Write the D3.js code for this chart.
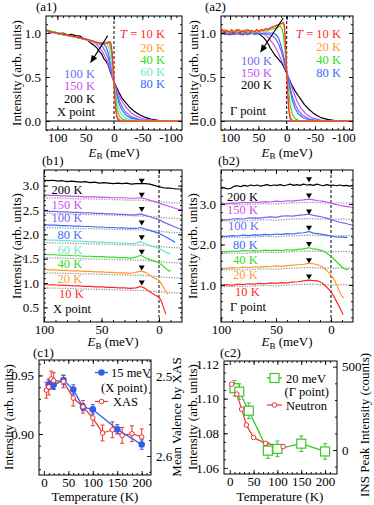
<!DOCTYPE html>
<meta charset="utf-8">
<script src="https://d3js.org/d3.v7.min.js"></script>
<body style="margin:0;background:#fff">
<svg id="fig" width="374" height="505"></svg>
</body>
<script>
    // colours per temperature
    const tColour = {10: "#ff2a2a", 20: "#ff9a2e", 40: "#33dd22", 60: "#6fe6cf",
        80: "#3a6bff", 100: "#6b6bf5", 150: "#cf4ff0", 200: "#000000"};

    // ---- (a1) X point, [E_B (meV), intensity]
    const a1_10 = [[120,1.03],[110,1.01],[100,1.0],[90,0.985],[80,0.97],[70,0.96],[60,0.945],[50,0.93],[40,0.915],[30,0.895],[20,0.88],[14,0.88],[10,0.89],[7,0.90],[5,0.87],[3,0.76],[1,0.56],[0,0.44],[-1,0.31],[-3,0.12],[-5,0.04],[-8,0.01],[-12,0],[-120,0]];
    const a1_20 = [[120,1.02],[110,1.01],[100,1.0],[90,0.98],[80,0.97],[70,0.955],[60,0.945],[50,0.93],[40,0.91],[30,0.895],[20,0.88],[12,0.89],[8,0.90],[5,0.85],[3,0.73],[0,0.44],[-3,0.17],[-6,0.05],[-10,0.015],[-15,0.004],[-22,0],[-120,0]];
    const a1_40 = [[120,1.04],[110,1.02],[100,1.005],[90,0.99],[80,0.975],[70,0.96],[60,0.945],[50,0.93],[40,0.915],[30,0.895],[20,0.885],[14,0.895],[11,0.90],[8,0.88],[5,0.80],[2,0.61],[0,0.44],[-3,0.25],[-6,0.12],[-10,0.05],[-15,0.02],[-25,0.005],[-40,0],[-120,0]];
    const a1_60 = [[120,1.03],[110,1.015],[100,1.0],[90,0.985],[80,0.97],[70,0.955],[60,0.945],[50,0.93],[40,0.91],[30,0.895],[22,0.885],[16,0.89],[12,0.88],[8,0.81],[4,0.63],[0,0.44],[-4,0.27],[-8,0.15],[-12,0.085],[-20,0.035],[-30,0.012],[-50,0],[-120,0]];
    const a1_80 = [[120,1.02],[110,1.01],[100,0.995],[90,0.98],[80,0.97],[70,0.955],[60,0.94],[50,0.93],[40,0.91],[30,0.895],[24,0.885],[19,0.88],[14,0.845],[10,0.77],[5,0.61],[0,0.44],[-5,0.29],[-10,0.18],[-15,0.115],[-20,0.075],[-30,0.032],[-45,0.01],[-60,0],[-120,0]];
    const a1_100 = [[120,1.025],[110,1.01],[100,1.0],[90,0.985],[80,0.97],[70,0.955],[60,0.94],[50,0.925],[40,0.91],[30,0.89],[22,0.86],[16,0.80],[10,0.71],[5,0.58],[0,0.44],[-5,0.32],[-10,0.22],[-15,0.155],[-20,0.105],[-30,0.05],[-45,0.016],[-70,0],[-120,0]];
    const a1_150 = [[120,1.02],[110,1.01],[100,0.995],[90,0.98],[80,0.97],[70,0.955],[60,0.94],[50,0.925],[40,0.905],[34,0.89],[28,0.855],[20,0.785],[12,0.685],[6,0.57],[0,0.44],[-6,0.335],[-12,0.245],[-20,0.165],[-30,0.095],[-40,0.052],[-55,0.02],[-80,0.002],[-120,0]];
    const a1_200 = [[120,1.03],[112,1.0],[105,1.01],[98,0.99],[90,1.0],[82,0.98],[75,0.985],[68,0.97],[60,0.965],[54,0.94],[48,0.925],[42,0.89],[36,0.865],[30,0.83],[26,0.79],[22,0.765],[18,0.71],[14,0.68],[10,0.63],[6,0.55],[2,0.48],[0,0.445],[-4,0.39],[-8,0.335],[-14,0.26],[-20,0.215],[-27,0.16],[-35,0.115],[-45,0.072],[-55,0.042],[-65,0.022],[-78,0.008],[-95,0.002],[-120,0]];

    // ---- (a2) Gamma point
    const a2_10 = [[117,1.02],[113,1.04],[109,1.0],[105,1.03],[101,1.01],[97,1.04],[93,1.0],[89,1.02],[85,1.04],[81,1.01],[77,1.03],[73,1.0],[69,1.04],[65,1.02],[61,1.03],[57,1.01],[53,1.04],[49,1.02],[45,1.04],[41,1.03],[37,1.05],[33,1.04],[29,1.06],[25,1.07],[21,1.08],[17,1.09],[13,1.1],[9,1.11],[6,1.12],[4,1.09],[2,0.87],[0,0.56],[-2,0.28],[-4,0.1],[-6,0.03],[-9,0],[-117,0]];
    const a2_20 = [[117,1.0],[113,1.02],[109,1.03],[105,1.0],[101,1.02],[97,1.01],[93,1.03],[89,1.0],[85,1.02],[81,1.03],[77,1.0],[73,1.02],[69,1.01],[65,1.03],[61,1.0],[57,1.02],[53,1.03],[49,1.01],[45,1.03],[41,1.02],[35,1.04],[29,1.05],[23,1.07],[17,1.08],[12,1.1],[8,1.11],[5,1.09],[3,0.95],[1,0.7],[0,0.56],[-2,0.33],[-4,0.15],[-7,0.04],[-11,0.005],[-15,0],[-117,0]];
    const a2_40 = [[117,1.03],[113,1.01],[109,1.04],[105,1.02],[101,1.0],[97,1.03],[93,1.02],[89,1.04],[85,1.01],[81,1.03],[77,1.02],[73,1.04],[69,1.0],[65,1.03],[61,1.02],[57,1.0],[53,1.03],[49,1.01],[45,1.02],[41,1.03],[35,1.02],[29,1.04],[23,1.05],[17,1.06],[12,1.08],[9,1.06],[6,0.98],[3,0.8],[0,0.56],[-3,0.36],[-6,0.19],[-10,0.075],[-15,0.025],[-22,0.005],[-30,0],[-117,0]];
    const a2_80 = [[117,0.99],[113,1.0],[109,0.98],[105,1.01],[101,0.99],[97,0.98],[93,1.0],[89,0.99],[85,1.01],[81,0.98],[77,1.0],[73,0.99],[69,0.98],[65,1.0],[61,0.99],[57,1.01],[53,0.99],[49,1.0],[45,0.99],[41,1.0],[35,1.0],[29,1.0],[24,1.0],[19,0.98],[15,0.95],[11,0.88],[7,0.78],[3,0.66],[0,0.56],[-5,0.38],[-10,0.23],[-15,0.14],[-20,0.085],[-28,0.04],[-40,0.012],[-55,0],[-117,0]];
    const a2_100 = [[117,0.98],[113,1.0],[109,0.99],[105,0.98],[101,1.0],[97,0.99],[93,0.98],[89,1.0],[85,0.99],[81,0.98],[77,0.99],[73,1.0],[69,0.98],[65,0.99],[61,1.0],[57,0.98],[53,0.99],[49,1.0],[45,0.99],[41,0.99],[35,0.99],[29,0.98],[24,0.96],[19,0.93],[14,0.87],[9,0.78],[5,0.68],[0,0.56],[-5,0.41],[-10,0.28],[-15,0.19],[-20,0.125],[-28,0.065],[-40,0.022],[-60,0],[-117,0]];
    const a2_150 = [[117,0.99],[109,1.0],[101,0.99],[93,1.0],[85,0.99],[77,1.0],[69,0.99],[61,1.0],[53,0.99],[45,1.0],[40,0.99],[34,0.96],[28,0.91],[22,0.86],[16,0.79],[10,0.7],[5,0.63],[0,0.56],[-6,0.44],[-12,0.33],[-18,0.23],[-25,0.145],[-35,0.075],[-45,0.035],[-60,0.01],[-80,0],[-117,0]];
    const a2_200 = [[117,1.01],[113,0.99],[109,1.02],[105,1.0],[101,0.98],[97,1.01],[93,1.0],[89,0.99],[85,1.01],[81,1.0],[77,0.98],[73,1.01],[69,0.99],[65,1.0],[61,1.01],[57,0.99],[53,1.0],[49,0.99],[45,0.97],[41,0.95],[37,0.92],[33,0.88],[29,0.83],[25,0.79],[21,0.75],[17,0.72],[13,0.69],[9,0.66],[5,0.61],[2,0.57],[0,0.54],[-4,0.48],[-9,0.41],[-15,0.34],[-20,0.29],[-25,0.245],[-31,0.19],[-38,0.14],[-46,0.095],[-54,0.06],[-62,0.035],[-72,0.018],[-85,0.006],[-100,0],[-117,0]];

    // ---- (b1) X point, offset spectra
    const b1_200 = [[100,3.11],[96,3.10],[92,3.11],[88,3.09],[84,3.10],[80,3.08],[76,3.09],[72,3.08],[68,3.07],[64,3.08],[60,3.06],[56,3.07],[52,3.05],[48,3.06],[44,3.05],[40,3.04],[36,3.05],[32,3.04],[28,3.05],[24,3.03],[20,3.04],[16,3.04],[12,3.04],[8,3.03],[5,3.01],[2,2.99],[0,2.98],[-3,2.96],[-6,2.95],[-9,2.95],[-12,2.94],[-15,2.93],[-18,2.93],[-20,2.92]];
    const b1_150 = [[100,2.81],[95,2.80],[90,2.80],[85,2.79],[80,2.79],[75,2.78],[70,2.78],[65,2.77],[60,2.77],[55,2.77],[50,2.76],[45,2.76],[40,2.75],[35,2.75],[30,2.75],[25,2.74],[20,2.74],[16,2.75],[12,2.73],[8,2.70],[4,2.67],[0,2.64],[-4,2.61],[-8,2.58],[-12,2.55],[-16,2.52],[-20,2.50]];
    const b1_100 = [[100,2.48],[95,2.47],[90,2.47],[85,2.46],[80,2.46],[75,2.45],[70,2.45],[65,2.44],[60,2.44],[55,2.43],[50,2.43],[45,2.42],[40,2.42],[35,2.41],[30,2.41],[25,2.40],[20,2.40],[16,2.42],[12,2.39],[8,2.36],[4,2.33],[0,2.30],[-4,2.25],[-8,2.21],[-12,2.17],[-16,2.13],[-20,2.10]];
    const b1_80 = [[100,2.20],[95,2.19],[90,2.19],[85,2.18],[80,2.18],[75,2.17],[70,2.17],[65,2.16],[60,2.16],[55,2.15],[50,2.15],[45,2.14],[40,2.14],[35,2.13],[30,2.13],[25,2.12],[20,2.12],[16,2.14],[12,2.11],[8,2.08],[4,2.05],[0,2.02],[-4,1.97],[-8,1.92],[-11,1.88],[-14,1.84]];
    const b1_60 = [[100,1.89],[95,1.88],[90,1.88],[85,1.87],[80,1.87],[75,1.86],[70,1.86],[65,1.85],[60,1.85],[55,1.84],[50,1.84],[45,1.83],[40,1.83],[35,1.82],[30,1.82],[25,1.81],[20,1.82],[16,1.85],[12,1.81],[8,1.77],[4,1.74],[0,1.71],[-3,1.67],[-6,1.63],[-8,1.61],[-10,1.61]];
    const b1_40 = [[100,1.59],[95,1.58],[90,1.58],[85,1.57],[80,1.57],[75,1.56],[70,1.56],[65,1.55],[60,1.55],[55,1.54],[50,1.54],[45,1.53],[40,1.53],[35,1.52],[30,1.52],[25,1.51],[20,1.53],[16,1.57],[12,1.52],[8,1.48],[4,1.45],[0,1.41],[-3,1.36],[-6,1.30],[-8,1.26],[-10,1.24]];
    const b1_20 = [[100,1.28],[95,1.27],[90,1.27],[85,1.26],[80,1.26],[75,1.25],[70,1.25],[65,1.24],[60,1.24],[55,1.23],[50,1.23],[45,1.22],[40,1.22],[35,1.21],[30,1.21],[25,1.20],[20,1.22],[16,1.25],[12,1.22],[8,1.16],[4,1.10],[0,1.05],[-3,0.95],[-5,0.86],[-7,0.79],[-8,0.77]];
    const b1_10 = [[100,0.97],[95,0.96],[90,0.96],[85,0.95],[80,0.95],[75,0.94],[70,0.94],[65,0.93],[60,0.93],[55,0.92],[50,0.92],[45,0.91],[40,0.91],[35,0.90],[30,0.90],[25,0.89],[20,0.90],[16,0.93],[12,0.89],[8,0.82],[4,0.76],[0,0.71],[-2,0.63],[-4,0.49],[-6,0.36]];
    // grey dotted reference (200 K shape) and its level under each spectrum
    const b1_ref = [[100,0],[90,-0.005],[80,-0.012],[70,-0.02],[60,-0.025],[50,-0.03],[40,-0.038],[30,-0.045],[20,-0.05],[15,-0.05],[10,-0.06],[5,-0.07],[0,-0.08],[-5,-0.09],[-10,-0.1],[-15,-0.105],[-20,-0.11]];
    const b1_refLevel = [0.90, 1.21, 1.52, 1.83, 2.14, 2.43, 2.75];
    const b1_markE = 15;
    const b1_mark = [1.0, 1.31, 1.63, 1.93, 2.23, 2.51, 2.80, 3.09];

    // ---- (b2) Gamma point
    const b2_200 = [[100,3.42],[97,3.40],[94,3.37],[91,3.39],[88,3.44],[85,3.45],[82,3.43],[79,3.46],[76,3.44],[73,3.47],[70,3.45],[67,3.47],[64,3.44],[61,3.46],[58,3.48],[55,3.45],[52,3.47],[49,3.46],[46,3.48],[43,3.45],[40,3.47],[37,3.49],[34,3.46],[31,3.48],[28,3.46],[25,3.49],[22,3.47],[19,3.48],[16,3.46],[13,3.49],[10,3.47],[7,3.45],[4,3.48],[1,3.46],[-2,3.47],[-5,3.45],[-8,3.47],[-11,3.45],[-14,3.46],[-17,3.44],[-20,3.46]];
    const b2_150 = [[100,3.02],[95,3.01],[90,3.03],[85,3.02],[80,3.04],[75,3.03],[70,3.05],[65,3.04],[60,3.06],[55,3.05],[50,3.07],[45,3.06],[40,3.08],[35,3.07],[30,3.09],[25,3.10],[20,3.12],[16,3.10],[12,3.08],[8,3.07],[4,3.05],[0,3.02],[-4,2.99],[-8,2.97],[-12,2.95],[-16,2.93],[-20,2.92]];
    const b2_100 = [[100,2.62],[95,2.61],[90,2.63],[85,2.64],[80,2.63],[75,2.65],[70,2.66],[65,2.65],[60,2.67],[55,2.68],[50,2.67],[45,2.70],[40,2.71],[35,2.70],[30,2.72],[25,2.73],[20,2.75],[16,2.72],[12,2.70],[8,2.68],[4,2.65],[0,2.62],[-4,2.58],[-8,2.55],[-12,2.53],[-16,2.50],[-20,2.48]];
    const b2_80 = [[100,2.21],[95,2.20],[90,2.22],[85,2.21],[80,2.23],[75,2.22],[70,2.24],[65,2.23],[60,2.25],[55,2.24],[50,2.26],[45,2.25],[40,2.27],[35,2.26],[30,2.28],[25,2.29],[20,2.32],[16,2.28],[12,2.27],[8,2.25],[4,2.23],[0,2.21],[-4,2.19],[-8,2.18],[-11,2.19],[-14,2.17],[-15,2.18]];
    const b2_40 = [[100,1.83],[95,1.82],[90,1.84],[85,1.83],[80,1.85],[75,1.84],[70,1.85],[65,1.84],[60,1.86],[55,1.85],[50,1.86],[45,1.85],[40,1.87],[35,1.86],[30,1.88],[25,1.89],[20,1.92],[16,1.89],[12,1.88],[8,1.85],[4,1.79],[0,1.71],[-3,1.63],[-6,1.55],[-9,1.47],[-12,1.40],[-14,1.38],[-16,1.40]];
    const b2_20 = [[100,1.42],[95,1.41],[90,1.43],[85,1.42],[80,1.44],[75,1.43],[70,1.45],[65,1.44],[60,1.46],[55,1.45],[50,1.47],[45,1.46],[40,1.48],[35,1.49],[30,1.50],[25,1.51],[20,1.54],[16,1.52],[12,1.50],[8,1.45],[4,1.36],[0,1.25],[-3,1.12],[-6,0.95],[-8,0.82],[-10,0.72],[-12,0.68]];
    const b2_10 = [[100,1.00],[95,1.01],[90,0.99],[85,1.02],[80,1.01],[75,1.03],[70,1.02],[65,1.04],[60,1.03],[55,1.05],[50,1.04],[45,1.06],[40,1.05],[35,1.07],[30,1.08],[25,1.10],[20,1.12],[16,1.11],[12,1.10],[8,1.05],[4,0.95],[0,0.83],[-3,0.70],[-6,0.54],[-9,0.38],[-11,0.27]];
    const b2_ref = [[100,0],[90,0.01],[80,0.0],[70,0.02],[60,0.03],[50,0.02],[40,0.04],[30,0.05],[20,0.06],[10,0.05],[0,0.04],[-10,0.05],[-20,0.04]];
    const b2_refLevel = [0.96, 1.37, 1.78, 2.17, 2.58, 2.98];
    const b2_markE = 20;
    const b2_mark = [1.2, 1.6, 2.0, 2.4, 2.8, 3.2, 3.6];

    // ---- (c1) 15 meV intensity at X and XAS valence
    const c1_temp = [10, 15, 20, 40, 60, 80, 100, 150, 200];
    const c1_int = [0.942, 0.943, 0.942, 0.946, 0.938, 0.923, 0.921, 0.904, 0.891];
    const c1_err = [0.004, 0.004, 0.004, 0.004, 0.004, 0.003, 0.004, 0.004, 0.004];
    const xas_temp = [5, 10, 15, 20, 40, 60, 80, 100, 120, 140, 160, 180, 200];
    const xas_val = [2.517, 2.513, 2.503, 2.505, 2.506, 2.527, 2.538, 2.552, 2.571, 2.567, 2.574, 2.572, 2.576];
    const xas_err = [0.01, 0.01, 0.01, 0.01, 0.008, 0.01, 0.008, 0.01, 0.01, 0.01, 0.01, 0.01, 0.01];

    // ---- (c2) 20 meV intensity at Gamma and neutron peak
    const c2_temp = [10, 20, 40, 80, 100, 150, 200];
    const c2_int = [1.106, 1.104, 1.093, 1.070, 1.071, 1.074, 1.0695];
    const c2_err = [0.0045, 0.0045, 0.0045, 0.0045, 0.0045, 0.0045, 0.0045];
    const ins_temp = [4, 15, 25, 35, 50, 75, 112];
    const ins_counts = [395, 335, 245, 150, 75, 40, 20];

    const FONT = "'Liberation Serif','Times New Roman',serif";
    const svg = d3.select("#fig");

    function panel(name, left, top, w, h, xd, yd) {
        const g = svg.append("g").attr("transform", "translate(" + left + "," + top + ")");
        const x = d3.scaleLinear().domain(xd).range([0, w]);
        const y = d3.scaleLinear().domain(yd).range([h, 0]);
        g.append("clipPath").attr("id", "clip" + name)
            .append("rect").attr("width", w).attr("height", h);
        const plot = g.append("g").attr("clip-path", "url(#clip" + name + ")");
        return {g: g, x: x, y: y, plot: plot, w: w, h: h};
    }

    function addAxis(p, gen, tr, vals, len, fmt, pad) {
        const a = p.g.append("g").attr("transform", tr)
            .call(gen.tickValues(vals).tickSizeInner(-len).tickSizeOuter(0)
                .tickPadding(pad || 4).tickFormat(fmt || (() => "")));
        a.select(".domain").remove();
        a.attr("font-family", FONT).attr("font-size", 13);
        a.selectAll("text").attr("fill", "#000");
        a.selectAll("line").attr("stroke-width", 0.9);
    }

    function frame(p, o) {
        const y2 = o.y2 || p.y;
        addAxis(p, d3.axisBottom(p.x), "translate(0," + p.h + ")", o.xMaj, 4, o.fx, 3);
        addAxis(p, d3.axisBottom(p.x), "translate(0," + p.h + ")", o.xMin, 2);
        addAxis(p, d3.axisTop(p.x), "translate(0,0)", o.xMaj, 4);
        addAxis(p, d3.axisTop(p.x), "translate(0,0)", o.xMin, 2);
        addAxis(p, d3.axisLeft(p.y), "translate(0,0)", o.yMaj, 4, o.fy, 5);
        addAxis(p, d3.axisLeft(p.y), "translate(0,0)", o.yMin, 2);
        addAxis(p, d3.axisRight(y2), "translate(" + p.w + ",0)", o.y2Maj || o.yMaj, 4, o.fy2, 5);
        addAxis(p, d3.axisRight(y2), "translate(" + p.w + ",0)", o.y2Min || o.yMin, 2);
        p.g.append("rect").attr("width", p.w).attr("height", p.h)
            .attr("fill", "none").attr("stroke", "#000").attr("stroke-width", 1);
    }

    function txt(x, y, s, o) {
        o = o || {};
        return svg.append("text").attr("x", x).attr("y", y)
            .attr("font-family", FONT).attr("font-size", o.size || 13)
            .attr("fill", o.fill || "#000").attr("text-anchor", o.anchor || "start")
            .attr("transform", o.rot ? "rotate(-90," + x + "," + y + ")" : null)
            .text(s);
    }

    function ebLabel(cx, by) {
        const t = txt(cx, by, "", {anchor: "middle"});
        t.append("tspan").attr("font-style", "italic").text("E");
        t.append("tspan").attr("font-size", 9).attr("dy", 2.5).text("B");
        t.append("tspan").attr("dy", -2.5).text(" (meV)");
    }

    function drawLine(p, data, colour, width, dash) {
        p.plot.append("path").datum(data)
            .attr("fill", "none").attr("stroke", colour)
            .attr("stroke-width", width || 1.2)
            .attr("stroke-dasharray", dash || null)
            .attr("stroke-linejoin", "round")
            .attr("d", d3.line().x(d => p.x(d[0])).y(d => p.y(d[1])));
    }

    function vDash(p) {
        p.plot.append("line").attr("x1", p.x(0)).attr("x2", p.x(0))
            .attr("y1", 0).attr("y2", p.h).attr("stroke", "#000")
            .attr("stroke-width", 1).attr("stroke-dasharray", "3,2");
    }

    function arrow(p, x1, y1, x2, y2) {
        const X1 = p.x(x1), Y1 = p.y(y1), X2 = p.x(x2), Y2 = p.y(y2);
        const ang = Math.atan2(Y2 - Y1, X2 - X1);
        p.g.append("line").attr("x1", X1).attr("y1", Y1)
            .attr("x2", X2 - 5 * Math.cos(ang)).attr("y2", Y2 - 5 * Math.sin(ang))
            .attr("stroke", "#000").attr("stroke-width", 1.1);
        const L = 8, W = 3.2;
        const bx = X2 - L * Math.cos(ang), by = Y2 - L * Math.sin(ang);
        const pts = [[X2, Y2], [bx + W * Math.sin(ang), by - W * Math.cos(ang)], [bx - W * Math.sin(ang), by + W * Math.cos(ang)]];
        p.g.append("polygon").attr("points", pts.map(d => d.join(",")).join(" ")).attr("fill", "#000");
    }

    function tri(p, e, v) {
        const X = p.x(e), Y = p.y(v);
        p.plot.append("path").attr("d", "M" + (X - 3) + "," + (Y - 2.5) + "L" + (X + 3) + "," + (Y - 2.5) + "L" + X + "," + (Y + 2.5) + "Z")
            .attr("fill", "#000");
    }

    const fmtInt = d => String(d);
    const fmt1 = d3.format(".1f");

    // ================= (a1)
    const pa1 = panel("a1", 46, 16, 136, 114, [120, -120], [-0.102, 1.193]);
    pa1.plot.append("line").attr("x1", 0).attr("x2", pa1.w).attr("y1", pa1.y(0)).attr("y2", pa1.y(0))
        .attr("stroke", "#000").attr("stroke-width", 1);
    vDash(pa1);
    [[a1_200, 200], [a1_150, 150], [a1_100, 100], [a1_80, 80], [a1_60, 60], [a1_40, 40], [a1_20, 20], [a1_10, 10]]
        .forEach(d => drawLine(pa1, d[0], tColour[d[1]], 1.2));
    arrow(pa1, 11, 0.97, 42, 0.655);
    frame(pa1, {xMaj: [100, 50, 0, -50, -100], xMin: d3.range(-110, 120, 10),
        yMaj: [0, 0.5, 1.0], yMin: d3.range(-0.1, 1.2, 0.1), fx: fmtInt, fy: fmt1});

    // ================= (a2)
    const pa2 = panel("a2", 221, 16, 132, 114, [116, -117], [-0.102, 1.193]);
    pa2.plot.append("line").attr("x1", 0).attr("x2", pa2.w).attr("y1", pa2.y(0)).attr("y2", pa2.y(0))
        .attr("stroke", "#000").attr("stroke-width", 1);
    vDash(pa2);
    [[a2_200, 200], [a2_150, 150], [a2_100, 100], [a2_80, 80], [a2_40, 40], [a2_20, 20], [a2_10, 10]]
        .forEach(d => drawLine(pa2, d[0], tColour[d[1]], 1.2));
    arrow(pa2, 6, 1.17, 47, 0.775);
    frame(pa2, {xMaj: [100, 50, 0, -50, -100], xMin: d3.range(-110, 120, 10),
        yMaj: [0, 0.5, 1.0], yMin: d3.range(-0.1, 1.2, 0.1), fx: fmtInt, fy: fmt1});

    // ================= (b1)
    const pb1 = panel("b1", 44, 170, 138, 152, [100, -20], [0.2, 3.32]);
    vDash(pb1);
    b1_refLevel.forEach(l => drawLine(pb1, b1_ref.map(d => [d[0], d[1] + l]), "#9a9a9a", 1.3, "1.3,1.3"));
    [[b1_200, 200], [b1_150, 150], [b1_100, 100], [b1_80, 80], [b1_60, 60], [b1_40, 40], [b1_20, 20], [b1_10, 10]]
        .forEach(d => drawLine(pb1, d[0], tColour[d[1]], 1.2));
    b1_mark.forEach(v => tri(pb1, b1_markE, v));
    frame(pb1, {xMaj: [100, 50, 0], xMin: d3.range(-10, 100, 10),
        yMaj: [0.5, 1.0, 1.5, 2.0, 2.5, 3.0], yMin: d3.range(0.3, 3.3, 0.1), fx: fmtInt, fy: fmt1});

    // ================= (b2)
    const pb2 = panel("b2", 221, 170, 132, 152, [100, -20], [0.086, 3.84]);
    vDash(pb2);
    b2_refLevel.forEach(l => drawLine(pb2, b2_ref.map(d => [d[0], d[1] + l]), "#9a9a9a", 1.3, "1.3,1.3"));
    [[b2_200, 200], [b2_150, 150], [b2_100, 100], [b2_80, 80], [b2_40, 40], [b2_20, 20], [b2_10, 10]]
        .forEach(d => drawLine(pb2, d[0], tColour[d[1]], 1.2));
    b2_mark.forEach(v => tri(pb2, b2_markE, v));
    frame(pb2, {xMaj: [100, 50, 0], xMin: d3.range(-10, 100, 10),
        yMaj: [1.0, 2.0, 3.0], yMin: d3.range(0.2, 3.8, 0.2), fx: fmtInt, fy: fmt1});

    // ================= (c1)
    const pc1 = panel("c1", 39, 360, 112, 115, [-10, 219], [0.865, 0.9632]);
    const yXas = d3.scaleLinear().domain([2.479, 2.624]).range([0, 115]);
    function errBars(p, xs, ys, es, yScale, colour) {
        xs.forEach((t, i) => {
            const X = p.x(t), Y1 = yScale(ys[i] - es[i]), Y2 = yScale(ys[i] + es[i]);
            p.plot.append("line").attr("x1", X).attr("x2", X).attr("y1", Y1).attr("y2", Y2)
                .attr("stroke", colour).attr("stroke-width", 1);
            [Y1, Y2].forEach(Y => p.plot.append("line").attr("x1", X - 2).attr("x2", X + 2)
                .attr("y1", Y).attr("y2", Y).attr("stroke", colour).attr("stroke-width", 1));
        });
    }
    errBars(pc1, xas_temp, xas_val, xas_err, yXas, "#ee3030");
    pc1.plot.append("path").datum(xas_temp.map((t, i) => [t, xas_val[i]]))
        .attr("fill", "none").attr("stroke", "#ee3030").attr("stroke-width", 1.2)
        .attr("d", d3.line().x(d => pc1.x(d[0])).y(d => yXas(d[1])));
    errBars(pc1, c1_temp, c1_int, c1_err, pc1.y, "#2f5fe8");
    drawLine(pc1, c1_temp.map((t, i) => [t, c1_int[i]]), "#2f5fe8", 1.3);
    c1_temp.forEach((t, i) => pc1.plot.append("circle").attr("cx", pc1.x(t)).attr("cy", pc1.y(c1_int[i]))
        .attr("r", 3.3).attr("fill", "#2f5fe8"));
    xas_temp.forEach((t, i) => pc1.plot.append("circle").attr("cx", pc1.x(t)).attr("cy", yXas(xas_val[i]))
        .attr("r", 2.3).attr("fill", "#fff").attr("stroke", "#ee3030").attr("stroke-width", 1));
    frame(pc1, {xMaj: [0, 50, 100, 150, 200], xMin: d3.range(10, 220, 10),
        yMaj: [0.90, 0.95], yMin: d3.range(0.87, 0.965, 0.01), fx: fmtInt, fy: d3.format(".2f"),
        y2: yXas, y2Maj: [2.5, 2.6], y2Min: [2.48, 2.52, 2.54, 2.56, 2.58, 2.62], fy2: fmt1});

    // ================= (c2)
    const pc2 = panel("c2", 224, 361, 113, 113, [-12, 225], [1.0565, 1.1217]);
    const yIns = d3.scaleLinear().domain([-144, 534]).range([113, 0]);
    pc2.plot.append("path").datum(ins_temp.map((t, i) => [t, ins_counts[i]]))
        .attr("fill", "none").attr("stroke", "#ee3030").attr("stroke-width", 1.2)
        .attr("d", d3.line().x(d => pc2.x(d[0])).y(d => yIns(d[1])));
    errBars(pc2, c2_temp, c2_int, c2_err, pc2.y, "#3cc52a");
    drawLine(pc2, c2_temp.map((t, i) => [t, c2_int[i]]), "#3cc52a", 1.3);
    c2_temp.forEach((t, i) => pc2.plot.append("rect").attr("x", pc2.x(t) - 4.5).attr("y", pc2.y(c2_int[i]) - 4.5)
        .attr("width", 9).attr("height", 9).attr("fill", "#fff").attr("stroke", "#3cc52a").attr("stroke-width", 1.2));
    ins_temp.forEach((t, i) => pc2.plot.append("circle").attr("cx", pc2.x(t)).attr("cy", yIns(ins_counts[i]))
        .attr("r", 2.3).attr("fill", "#fff").attr("stroke", "#ee3030").attr("stroke-width", 1));
    frame(pc2, {xMaj: [0, 50, 100, 150, 200], xMin: d3.range(10, 220, 10),
        yMaj: [1.06, 1.08, 1.10, 1.12], yMin: d3.range(1.065, 1.12, 0.005), fx: fmtInt, fy: d3.format(".2f"),
        y2: yIns, y2Maj: [0, 500], y2Min: [-100, 100, 200, 300, 400], fy2: fmtInt});

    // ================= labels
    txt(36, 10.5, "(a1)");
    txt(205, 10.5, "(a2)");
    txt(42, 164.5, "(b1)");
    txt(218, 164.5, "(b2)");
    txt(33, 357, "(c1)");
    txt(220, 357, "(c2)");

    txt(20.5, 73, "Intensity (arb. units)", {rot: true, anchor: "middle"});
    txt(197.5, 73, "Intensity (arb. units)", {rot: true, anchor: "middle"});
    txt(20.5, 246, "Intensity (arb. units)", {rot: true, anchor: "middle"});
    txt(196.5, 246, "Intensity (arb. units)", {rot: true, anchor: "middle"});
    txt(12.5, 417, "Intensity (arb. units)", {rot: true, anchor: "middle"});
    txt(196.5, 417, "Intensity (arb. units)", {rot: true, anchor: "middle"});
    txt(181, 417, "Mean Valence by XAS", {rot: true, anchor: "middle"});
    txt(369, 425, "INS Peak Intensity (counts)", {rot: true, anchor: "middle"});

    ebLabel(114, 156.5);
    ebLabel(287, 156.5);
    ebLabel(113, 346);
    ebLabel(287, 346);
    txt(95, 501, "Temperature (K)", {anchor: "middle"});
    txt(280, 501, "Temperature (K)", {anchor: "middle"});

    const LS = 12.5; // legend text size
    // (a1) legend
    const t1 = txt(165, 38, "", {anchor: "end", fill: tColour[10], size: LS});
    t1.append("tspan").attr("font-style", "italic").text("T");
    t1.append("tspan").text(" = 10 K");
    txt(165, 51.5, "20 K", {anchor: "end", fill: tColour[20], size: LS});
    txt(165, 64, "40 K", {anchor: "end", fill: tColour[40], size: LS});
    txt(165, 76, "60 K", {anchor: "end", fill: tColour[60], size: LS});
    txt(165, 88, "80 K", {anchor: "end", fill: tColour[80], size: LS});
    txt(95, 77.5, "100 K", {anchor: "end", fill: tColour[100], size: LS});
    txt(95, 90, "150 K", {anchor: "end", fill: tColour[150], size: LS});
    txt(95, 102.5, "200 K", {anchor: "end", size: LS});
    txt(57, 116, "X point", {size: LS});

    // (a2) legend
    const t2 = txt(341, 38, "", {anchor: "end", fill: tColour[10], size: LS});
    t2.append("tspan").attr("font-style", "italic").text("T");
    t2.append("tspan").text(" = 10 K");
    txt(341, 51, "20 K", {anchor: "end", fill: tColour[20], size: LS});
    txt(341, 64, "40 K", {anchor: "end", fill: tColour[40], size: LS});
    txt(341, 76.5, "80 K", {anchor: "end", fill: tColour[80], size: LS});
    txt(272, 65, "100 K", {anchor: "end", fill: tColour[100], size: LS});
    txt(272, 77, "150 K", {anchor: "end", fill: tColour[150], size: LS});
    txt(272, 89, "200 K", {anchor: "end", size: LS});
    txt(230, 114.5, "\u0393 point", {size: LS});

    // (b1) labels
    txt(51.5, 193.5, "200 K", {size: LS});
    txt(51.5, 208.5, "150 K", {fill: tColour[150], size: LS});
    txt(51.5, 222, "100 K", {fill: tColour[100], size: LS});
    txt(57.5, 238.5, "80 K", {fill: tColour[80], size: LS});
    txt(57.5, 253.5, "60 K", {fill: tColour[60], size: LS});
    txt(57.5, 268, "40 K", {fill: tColour[40], size: LS});
    txt(57.5, 283, "20 K", {fill: tColour[20], size: LS});
    txt(59, 297.5, "10 K", {fill: tColour[10], size: LS});
    txt(53, 312.5, "X point", {size: LS});

    // (b2) labels
    txt(227, 201, "200 K", {size: LS});
    txt(227, 213.5, "150 K", {fill: tColour[150], size: LS});
    txt(228, 229.5, "100 K", {fill: tColour[100], size: LS});
    txt(233, 248.5, "80 K", {fill: tColour[80], size: LS});
    txt(233, 263.5, "40 K", {fill: tColour[40], size: LS});
    txt(233, 279, "20 K", {fill: tColour[20], size: LS});
    txt(235, 295.5, "10 K", {fill: tColour[10], size: LS});
    txt(230, 311, "\u0393 point", {size: LS});

    // (c1) legend
    svg.append("line").attr("x1", 95).attr("x2", 108).attr("y1", 372.5).attr("y2", 372.5).attr("stroke", "#2f5fe8").attr("stroke-width", 1.3);
    svg.append("circle").attr("cx", 101.5).attr("cy", 372.5).attr("r", 3.3).attr("fill", "#2f5fe8");
    txt(111, 377, "15 meV", {size: LS});
    txt(101, 391.5, "(X point)", {size: LS});
    svg.append("line").attr("x1", 95).attr("x2", 108).attr("y1", 401.5).attr("y2", 401.5).attr("stroke", "#ee3030").attr("stroke-width", 1.2);
    svg.append("circle").attr("cx", 101.5).attr("cy", 401.5).attr("r", 2.3).attr("fill", "#fff").attr("stroke", "#ee3030");
    txt(113, 406, "XAS", {size: LS});

    // (c2) legend
    svg.append("line").attr("x1", 267).attr("x2", 282).attr("y1", 378).attr("y2", 378).attr("stroke", "#3cc52a").attr("stroke-width", 1.3);
    svg.append("rect").attr("x", 270).attr("y", 373.5).attr("width", 9).attr("height", 9).attr("fill", "#fff").attr("stroke", "#3cc52a").attr("stroke-width", 1.2);
    txt(286, 382.5, "20 meV", {size: LS});
    txt(284.5, 396, "(\u0393 point)", {size: LS});
    svg.append("line").attr("x1", 267).attr("x2", 282).attr("y1", 405).attr("y2", 405).attr("stroke", "#ee3030").attr("stroke-width", 1.2);
    svg.append("circle").attr("cx", 274.5).attr("cy", 405).attr("r", 2.3).attr("fill", "#fff").attr("stroke", "#ee3030");
    txt(286, 409.5, "Neutron", {size: LS});
</script>
</html>
